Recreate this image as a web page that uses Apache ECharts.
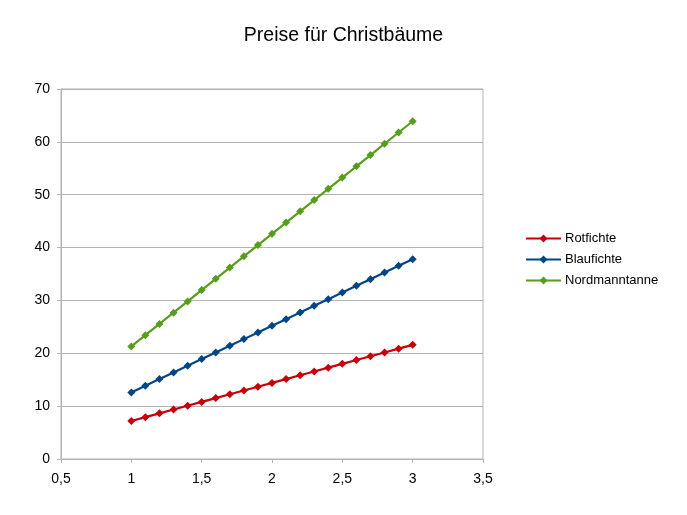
<!DOCTYPE html>
<html>
<head>
<meta charset="utf-8">
<script src="https://cdn.jsdelivr.net/npm/echarts@6/dist/echarts.min.js"></script>
<style>
  html, body { margin: 0; padding: 0; background: #fff; }
  #chart { width: 687px; height: 515px; }
</style>
</head>
<body>
<div id="chart"></div>
<script>
const xValues = [1, 1.1, 1.2, 1.3, 1.4, 1.5, 1.6, 1.7, 1.8, 1.9, 2,
  2.1, 2.2, 2.3, 2.4, 2.5, 2.6, 2.7, 2.8, 2.9, 3];
const rotfichte = [7.2, 7.92, 8.64, 9.36, 10.08, 10.8, 11.52, 12.24, 12.96, 13.68, 14.4,
  15.12, 15.84, 16.56, 17.28, 18, 18.72, 19.44, 20.16, 20.88, 21.6];
const blaufichte = [12.6, 13.86, 15.12, 16.38, 17.64, 18.9, 20.16, 21.42, 22.68, 23.94, 25.2,
  26.46, 27.72, 28.98, 30.24, 31.5, 32.76, 34.02, 35.28, 36.54, 37.8];
const nordmanntanne = [21.3, 23.43, 25.56, 27.69, 29.82, 31.95, 34.08, 36.21, 38.34, 40.47, 42.6,
  44.73, 46.86, 48.99, 51.12, 53.25, 55.38, 57.51, 59.64, 61.77, 63.9];
const seriesNames = ["Rotfichte", "Blaufichte", "Nordmanntanne"];
const colors = ["#c5000b", "#004586", "#579d1c"];

const pairs = (ys) => xValues.map((x, i) => [x, ys[i]]);

const makeSeries = (name, ys) => {
  return {
    name: name,
    type: "line",
    data: pairs(ys),
    symbol: "diamond",
    symbolSize: 8,
    lineStyle: { width: 2.2 },
    emphasis: { disabled: true },
  };
};

const getOption = () => {
  return {
    color: colors,
    animation: false,
    textStyle: { fontFamily: "Liberation Sans, Arial, sans-serif" },
    title: {
      text: "Preise für Christbäume",
      left: "center",
      top: 21,
      textStyle: {
        fontFamily: "Liberation Sans, Arial, sans-serif",
        fontSize: 19.5,
        fontWeight: "normal",
        color: "#000",
      },
    },
    legend: {
      orient: "vertical",
      left: 520,
      top: 227,
      itemWidth: 35,
      itemHeight: 10,
      itemGap: 8,
      data: seriesNames,
      textStyle: { fontSize: 13, color: "#000", padding: [0, 0, 0, -1] },
    },
    grid: {
      left: 61,
      right: 204,
      top: 89,
      bottom: 56,
      show: true,
      borderColor: "#b3b3b3",
      borderWidth: 1,
    },
    xAxis: {
      type: "value",
      min: 0.5,
      max: 3.5,
      interval: 0.5,
      axisLine: { show: true, lineStyle: { color: "#b3b3b3" } },
      axisTick: { show: true, length: 4, lineStyle: { color: "#b3b3b3" } },
      splitLine: { show: false },
      axisLabel: {
        color: "#000",
        fontSize: 14,
        margin: 13,
        formatter: (v) => String(v).replace(".", ","),
      },
    },
    yAxis: {
      type: "value",
      min: 0,
      max: 70,
      interval: 10,
      axisLine: { show: true, lineStyle: { color: "#b3b3b3" } },
      axisTick: { show: true, length: 4, lineStyle: { color: "#b3b3b3" } },
      splitLine: { show: true, lineStyle: { color: "#b3b3b3" } },
      axisLabel: { color: "#000", fontSize: 14, margin: 11 },
    },
    series: [
      makeSeries(seriesNames[0], rotfichte),
      makeSeries(seriesNames[1], blaufichte),
      makeSeries(seriesNames[2], nordmanntanne),
    ],
  };
};

const chart = echarts.init(document.getElementById("chart"));
chart.setOption(getOption());
</script>
</body>
</html>
